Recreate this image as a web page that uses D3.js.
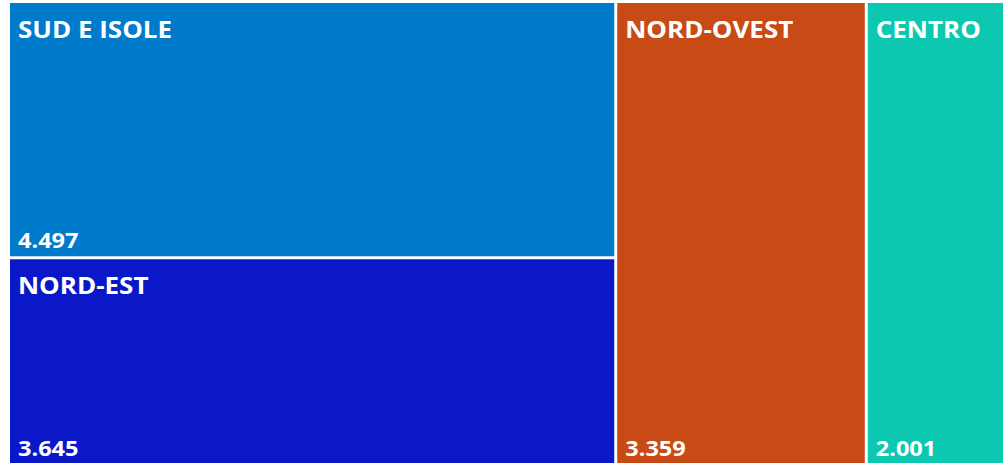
<!DOCTYPE html>
<html>
<head>
<meta charset="utf-8">
<script src="https://cdn.jsdelivr.net/npm/d3@7"></script>
<style>
  body { margin: 0; background: #fff; }
  svg { display: block; }
  text { font-family: "Open Sans", "Noto Sans", sans-serif; font-weight: 700; fill: #fff; }
</style>
</head>
<body>
<svg id="chart"></svg>
<script>
const width = 1003;
const height = 463;

// regions, values (thousands) and the column each tile sits in
const regions = ["SUD E ISOLE", "NORD-EST", "NORD-OVEST", "CENTRO"];
const values = [4.497, 3.645, 3.359, 2.001];
const columns = [0, 0, 1, 2];
const colors = ["#007bcb", "#0b18c7", "#c84a15", "#0dc8b0"];

const fmt = v => v.toFixed(3);

const svg = d3.select("#chart")
    .attr("width", width)
    .attr("height", height);

// group tiles into columns, columns stack their tiles
const colIds = Array.from(new Set(columns));
const data = {
    children: colIds.map(c => ({
        children: regions
            .map((name, i) => ({ name, value: values[i], color: colors[i], col: columns[i] }))
            .filter(d => d.col === c)
    }))
};

const root = d3.hierarchy(data)
    .sum(d => d.value || 0);

// plot area runs a bit past the right edge, as in the original
d3.treemap()
    .tile(d3.treemapSliceDice)
    .size([1004, 461])
    .paddingInner(3)(root);

const g = svg.append("g").attr("transform", "translate(10,3)");

const leaf = g.selectAll("g.tile")
    .data(root.leaves())
    .join("g")
    .attr("class", "tile")
    .attr("transform", d => `translate(${d.x0},${d.y0})`);

leaf.append("rect")
    .attr("width", d => d.x1 - d.x0)
    .attr("height", d => d.y1 - d.y0)
    .attr("fill", d => d.data.color);

// labels are a bit wider than Open Sans, so stretch them slightly
leaf.append("text")
    .attr("transform", "translate(8,35) scale(1.13,1)")
    .attr("font-size", 23)
    .text(d => d.data.name);

leaf.append("text")
    .attr("transform", d => `translate(8,${d.y1 - d.y0 - 8}) scale(1.07,1)`)
    .attr("font-size", 22)
    .text(d => fmt(d.data.value));
</script>
</body>
</html>
